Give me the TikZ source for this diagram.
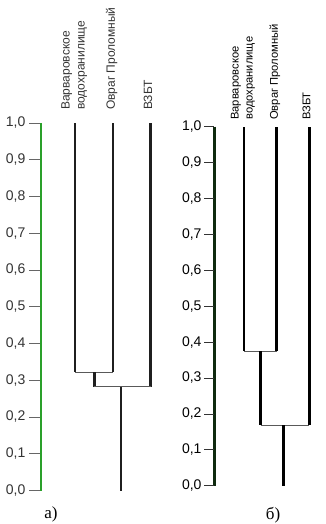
\documentclass[tikz,border=0pt]{standalone}
\usepackage{fontspec}
\setmainfont{Liberation Serif}
\newfontfamily\lsans{Liberation Sans}
\definecolor{axgreen}{HTML}{2AA02A}
\definecolor{axdark}{HTML}{0F2A0F}
\definecolor{txtgray}{HTML}{333333}
\begin{document}
\begin{tikzpicture}[x=1pt,y=-1pt,
  branch/.style={line width=2.9pt,draw=black!88},
  joinline/.style={line width=1pt,draw=black!65},
  tickline/.style={line width=0.7pt,draw=black!60},
  ticklab/.style={anchor=east,inner sep=0pt,font=\lsans\fontsize{14}{14}\selectfont},
  leaflab/.style={rotate=90,anchor=west,inner sep=0pt,align=left},
  captxt/.style={inner sep=0pt,font=\fontsize{17}{17}\selectfont}]
\useasboundingbox (0,0) rectangle (325,524);
% ---------------- panel a ----------------
\draw[line width=2.6pt,draw=axgreen] (41,123) -- (41,490.5);
\foreach \i/\t in {0/{1,0},1/{0,9},2/{0,8},3/{0,7},4/{0,6},5/{0,5},6/{0,4},7/{0,3},8/{0,2},9/{0,1},10/{0,0}}{
  \coordinate (at\i) at (29,{123+36.75*\i});
  \coordinate (ae\i) at (40,{123+36.75*\i});
  \draw[tickline] (at\i) -- (ae\i);
  \node[ticklab,text=txtgray] (al\i) at (25.5,{123+36.75*\i}) {\t};
}
\coordinate (a1t) at (75,123);   \coordinate (a1b) at (75,372);
\coordinate (a2t) at (113,123);  \coordinate (a2b) at (113,372);
\coordinate (a3t) at (150.7,123); \coordinate (a3b) at (150.7,386.7);
\coordinate (am1) at (94.3,372); \coordinate (am1b) at (94.3,386.7);
\coordinate (ar) at (121,386.7); \coordinate (arb) at (121,490.5);
\draw[branch] (a1t) -- (a1b);
\draw[branch] (a2t) -- (a2b);
\draw[branch] (a3t) -- (a3b);
\draw[joinline] (a1b) -- (a2b);
\draw[branch] (am1) -- (am1b);
\draw[joinline] (am1b) -- (a3b);
\draw[branch] (ar) -- (arb);
\node[leaflab,text=txtgray,font=\lsans\fontsize{12}{15}\selectfont] (an1) at (74.2,110) {Варваровское\\водохранилище};
\node[leaflab,text=txtgray,font=\lsans\fontsize{12}{15}\selectfont] (an2) at (111.7,110) {Овраг Проломный};
\node[leaflab,text=txtgray,font=\lsans\fontsize{12}{15}\selectfont] (an3) at (148,110) {ВЗБТ};
\node[captxt] (capa) at (51,514) {а)};
% ---------------- panel b ----------------
\draw[line width=2.2pt,draw=axdark] (214.5,126.7) -- (214.5,485.7);
\foreach \i/\t in {0/{1,0},1/{0,9},2/{0,8},3/{0,7},4/{0,6},5/{0,5},6/{0,4},7/{0,3},8/{0,2},9/{0,1},10/{0,0}}{
  \coordinate (bt\i) at (204,{126.7+35.9*\i});
  \coordinate (be\i) at (214,{126.7+35.9*\i});
  \draw[line width=0.8pt,draw=black!80] (bt\i) -- (be\i);
  \node[ticklab,text=black] (bl\i) at (201.7,{126.7+35.9*\i}) {\t};
}
\coordinate (b1t) at (244,127);   \coordinate (b1b) at (244,351);
\coordinate (b2t) at (276.7,127); \coordinate (b2b) at (276.7,351);
\coordinate (b3t) at (309.3,127); \coordinate (b3b) at (309.3,425);
\coordinate (bm1) at (260.7,351); \coordinate (bm1b) at (260.7,425);
\coordinate (br) at (283.3,425);  \coordinate (brb) at (283.3,485.7);
\draw[branch,draw=black] (b1t) -- (b1b);
\draw[branch,draw=black] (b2t) -- (b2b);
\draw[branch,draw=black] (b3t) -- (b3b);
\draw[joinline] (b1b) -- (b2b);
\draw[branch,draw=black] (bm1) -- (bm1b);
\draw[joinline] (bm1b) -- (b3b);
\draw[branch,draw=black] (br) -- (brb);
\node[leaflab,text=black,font=\lsans\fontsize{11.2}{14}\selectfont] (bn1) at (243,120) {Варваровское\\водохранилище};
\node[leaflab,text=black,font=\lsans\fontsize{11.2}{14}\selectfont] (bn2) at (275,120) {Овраг Проломный};
\node[leaflab,text=black,font=\lsans\fontsize{11.2}{14}\selectfont] (bn3) at (306.5,120) {ВЗБТ};
\node[captxt] (capb) at (273,515) {б)};
\end{tikzpicture}
\end{document}
